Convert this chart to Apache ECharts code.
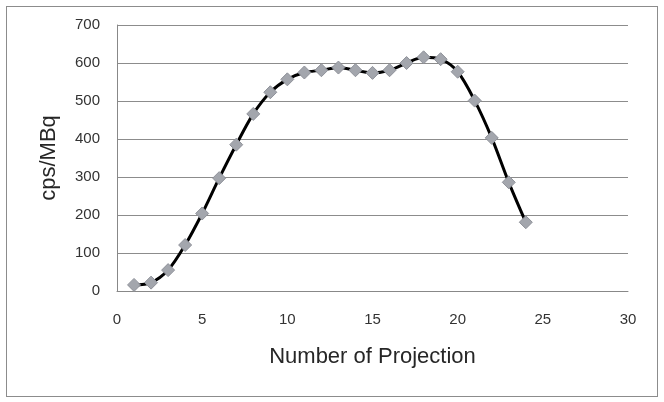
<!DOCTYPE html>
<html>
<head>
<meta charset="UTF-8">
<title>cps/MBq vs projection</title>
<script src="https://cdn.jsdelivr.net/npm/echarts@6/dist/echarts.min.js"></script>
<style>
  html, body { margin: 0; padding: 0; background: #fff; }
  #chart { width: 664px; height: 402px; }
  .frame { position: absolute; left: 6px; top: 6px; width: 650px; height: 389px; border: 1px solid #8c8c8c; pointer-events: none; }
</style>
</head>
<body>
<div id="chart"></div>
<div class="frame"></div>
<script>
// projection number and measured sensitivity
var projections = [1, 2, 3, 4, 5, 6, 7, 8, 9, 10, 11, 12, 13, 14, 15, 16, 17, 18, 19, 20, 21, 22, 23, 24];
var cpsPerMBq = [16, 22, 55, 121, 204, 297, 385, 466, 523, 557, 575, 581, 588, 581, 574, 581, 600, 615, 610, 577, 501, 403, 286, 181];
var xTicks = [0, 5, 10, 15, 20, 25, 30];
var yTicks = [0, 100, 200, 300, 400, 500, 600, 700];

var chart = echarts.init(document.getElementById('chart'));
var font = '"Liberation Sans", Arial, sans-serif';

chart.setOption({
  animation: false,
  grid: { left: 117, right: 36, top: 25, bottom: 111 },
  xAxis: {
    type: 'value',
    min: xTicks[0], max: xTicks[xTicks.length - 1], interval: 5,
    name: 'Number of Projection',
    nameLocation: 'middle',
    nameGap: 55,
    nameTextStyle: { fontFamily: font, fontSize: 22, color: '#262626' },
    axisLine: { show: true, lineStyle: { color: '#888', width: 1 } },
    axisTick: { show: false },
    splitLine: { show: false },
    axisLabel: { fontFamily: font, fontSize: 15, color: '#333', margin: 21 }
  },
  yAxis: {
    type: 'value',
    min: yTicks[0], max: yTicks[yTicks.length - 1], interval: 100,
    name: 'cps/MBq',
    nameLocation: 'middle',
    nameGap: 57,
    nameTextStyle: { fontFamily: font, fontSize: 22, color: '#262626' },
    axisLine: { show: true, lineStyle: { color: '#888', width: 1 } },
    axisTick: { show: false },
    splitLine: { show: true, lineStyle: { color: '#8c8c8c', width: 1 } },
    axisLabel: { fontFamily: font, fontSize: 15, color: '#333', margin: 17 }
  },
  series: [{
    type: 'line',
    smooth: 0.3,
    data: projections.map(function (p, i) { return [p, cpsPerMBq[i]]; }),
    symbol: 'diamond',
    symbolSize: 13,
    lineStyle: { color: '#000', width: 3 },
    itemStyle: { color: '#a3a6ad', borderColor: '#8e9199', borderWidth: 1 }
  }]
});
</script>
</body>
</html>
